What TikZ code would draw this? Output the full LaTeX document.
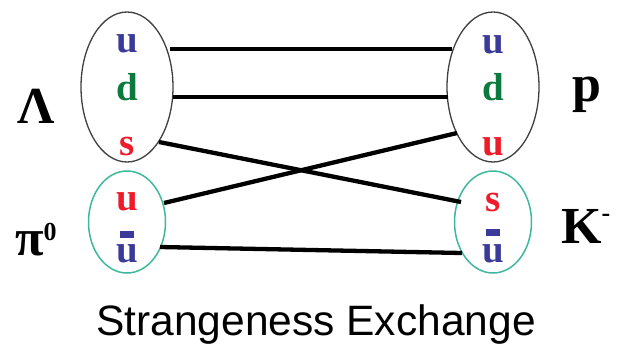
\documentclass[tikz,border=0pt]{standalone}
\usepackage{fontspec}
\setmainfont{Liberation Serif}
\newfontfamily\capfont{Liberation Sans}
\usetikzlibrary{shapes.geometric}
\definecolor{qblue}{HTML}{3A3A98}
\definecolor{qgreen}{HTML}{0B7A3C}
\definecolor{qred}{HTML}{EE1C2A}
\definecolor{teal2}{HTML}{3DB89C}
\definecolor{ring}{HTML}{404040}
\tikzset{
  baryon/.style={draw=ring, line width=1.3pt, ellipse, inner sep=0pt, minimum width=92pt, minimum height=150pt},
  meson/.style={draw=teal2, line width=1.5pt, ellipse, inner sep=0pt, minimum width=77pt, minimum height=102pt},
  quark/.style={anchor=base, inner sep=0pt, font=\fontsize{39}{39}\selectfont\bfseries},
  qbar/.style={fill=qblue, minimum width=14pt, minimum height=7pt, inner sep=0pt},
  hadron/.style={anchor=base, inner sep=0pt, font=\fontsize{52}{52}\selectfont\bfseries},
  qline/.style={line width=4.3pt, black}
}
\begin{document}
\begin{tikzpicture}[x=1pt,y=-1pt]
\useasboundingbox (0,0) rectangle (619,346);
% hadron bags
\node[baryon] (lam) at (127,87) {};
\node[baryon] (prot) at (493,87) {};
\node[meson] (pion) at (127,222) {};
\node[meson] (kaon) at (493,222) {};
% quarks
\node[quark, text=qblue]  (lu) at (127,52) {u};
\node[quark, text=qgreen] (ld) at (127,100) {d};
\node[quark, text=qred]   (ls) at (127,155) {s};
\node[quark, text=qblue]  (pu1) at (493,53) {u};
\node[quark, text=qgreen] (pd) at (493,100) {d};
\node[quark, text=qred]   (pu2) at (493,155) {u};
\node[quark, text=qred]   (piu) at (127,210) {u};
\node[qbar] (pibar) at (127,234) {};
\node[quark, text=qblue]  (piub) at (127,262) {u};
\node[quark, text=qred]   (ks) at (493,211) {s};
\node[qbar] (kbar) at (493,232) {};
\node[quark, text=qblue]  (kub) at (493,262) {u};
% hadron labels
\node[hadron] (lamlab) at (36,123) {Λ};
\node[hadron, anchor=base west] (pilab) at (15,255) {π\raisebox{15pt}{\fontsize{26}{26}\selectfont 0}};
\node[hadron] (plab) at (587,101) {p};
\node[hadron, anchor=base west] (klab) at (561,243) {K\raisebox{22pt}{\fontsize{26}{26}\selectfont -}};
% line ends
\coordinate (a1) at (170,49);  \coordinate (b1) at (452,49);
\coordinate (a2) at (173,97);  \coordinate (b2) at (448,97);
\coordinate (a3) at (159,142); \coordinate (b3) at (461,202);
\coordinate (a4) at (164,203); \coordinate (b4) at (457,133);
\coordinate (a5) at (160,247); \coordinate (b5) at (462,253);
\draw[qline] (a1) -- (b1);
\draw[qline] (a2) -- (b2);
\draw[qline] (a3) -- (b3);
\draw[qline] (a4) -- (b4);
\draw[qline] (a5) -- (b5);
% caption
\node[anchor=base, inner sep=0pt, font=\capfont\fontsize{42.5}{42.5}\selectfont] (cap) at (316,335) {Strangeness Exchange};
\end{tikzpicture}
\end{document}
